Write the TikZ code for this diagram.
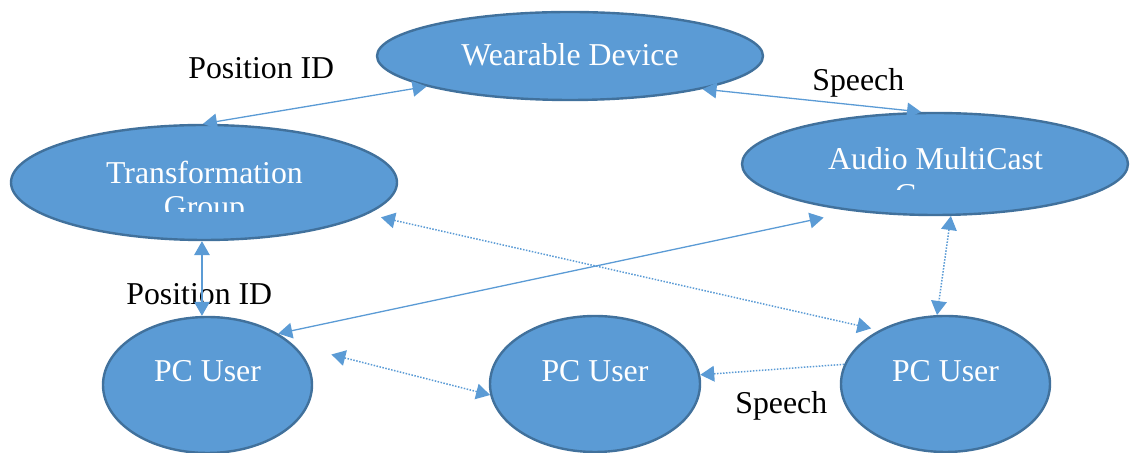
\documentclass[tikz,border=0pt]{standalone}
\usepackage{fontspec}
\setmainfont{Liberation Serif}
\usetikzlibrary{arrows.meta,shapes.geometric}
\definecolor{fillb}{HTML}{5B9BD5}
\definecolor{edgeb}{HTML}{41719C}
\definecolor{lineb}{HTML}{5B9BD5}
\tikzset{
  ell/.style={ellipse, draw=edgeb, fill=fillb, line width=1.2pt, inner sep=0pt},
  wtxt/.style={text=white, inner sep=0pt, anchor=base, font=\fontsize{15.9}{17}\selectfont},
  lbl/.style={text=black, inner sep=0pt, anchor=base west, font=\fontsize{15.9}{17}\selectfont},
  tip/.tip={Triangle[length=7pt,width=7.8pt]},
  conn/.style={draw=lineb, line width=0.65pt, tip-tip},
  dotc/.style={conn, line width=0.75pt, dash pattern=on 0.75pt off 0.75pt},
  dotone/.style={draw=lineb, line width=0.75pt, dash pattern=on 0.75pt off 0.75pt, -tip}
}
\begin{document}
\begin{tikzpicture}[x=0.5pt,y=-0.5pt]
\useasboundingbox (0,0) rectangle (1132,453);
% ellipses
\node[ell, minimum width=193pt, minimum height=44pt] (W) at (570,56) {};
\node[ell, minimum width=193pt, minimum height=57.5pt] (T) at (204,182.5) {};
\node[ell, minimum width=193pt, minimum height=51pt] (A) at (935,164) {};
\node[ell, minimum width=104.5pt, minimum height=68pt] (PCL) at (207.5,385) {};
\node[ell, minimum width=105pt, minimum height=68pt] (PCM) at (595,384) {};
\node[ell, minimum width=104.5pt, minimum height=68pt] (PCR) at (945.5,384) {};
% ellipse texts
\node[wtxt] (wt) at (570,65.7) {Wearable Device};
\node[wtxt] (tt1) at (204.5,183.3) {Transformation};
\begin{scope}
  \clip (0,190) rectangle (400,211.7);
  \node[wtxt] (tt2) at (204.5,217.3) {Group};
\end{scope}
\node[wtxt] (at1) at (935.5,169.3) {Audio MultiCast};
\begin{scope}
  \clip (740,175) rectangle (1130,190);
  \node[wtxt] (at2) at (935.5,205.3) {Group};
\end{scope}
\node[wtxt] (p1) at (207.5,382) {PC User};
\node[wtxt] (p2) at (595,382) {PC User};
\node[wtxt] (p3) at (945.5,382) {PC User};
% labels
\node[lbl] (l1) at (188,79) {Position ID};
\node[lbl] (l2) at (126,305) {Position ID};
\node[lbl] (l3) at (812,91) {Speech};
\node[lbl] (l4) at (735,414) {Speech};
% connectors
\draw[conn] (T.91) -- (W.192);
\draw[conn] (W.-14) -- (A.105);
\draw[conn] (T.268) -- (T.268 |- PCL.north);
\draw[conn, shorten >=15pt] (PCL.36) -- (A.210);
\draw[dotc, shorten <=7pt, shorten >=4pt] (T.-11) -- (PCR.141);
\draw[dotc] (A.-73) -- (PCR.97);
\draw[dotc, shorten <=19.5pt] (PCL.25) -- (PCM.186);
\draw[dotone] (PCR.169.5) -- (PCM.5.4);
\end{tikzpicture}
\end{document}
